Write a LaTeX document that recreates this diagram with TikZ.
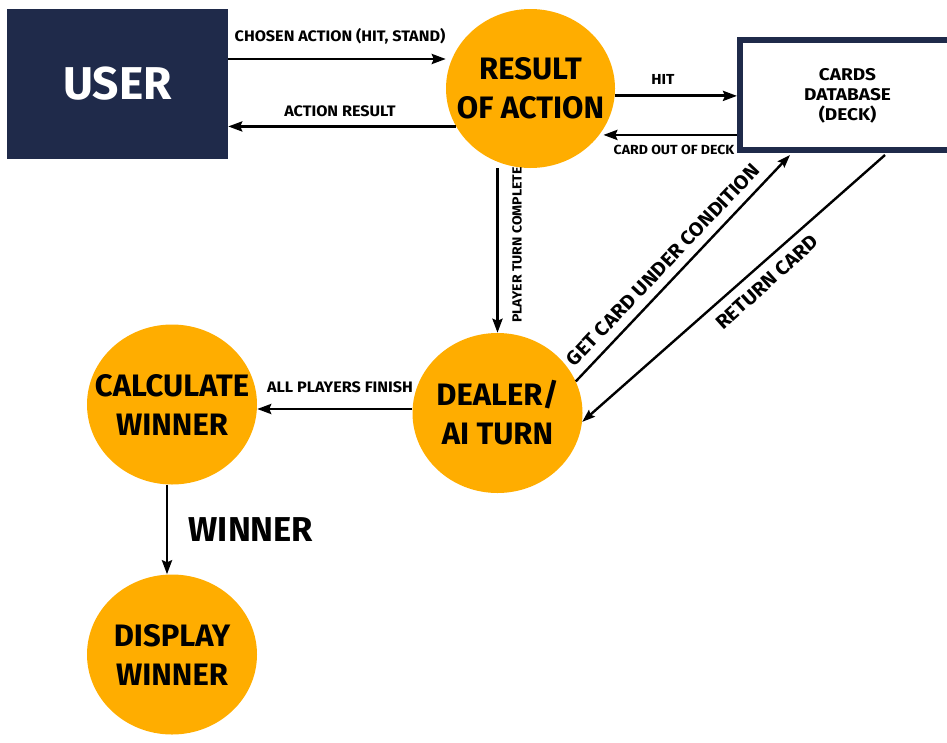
\documentclass[tikz,border=0pt]{standalone}
\usepackage{fontspec}
\setmainfont{Fira Sans}
\newfontfamily\widelbl[FakeStretch=1.065]{Fira Sans}
\newfontfamily\widedb[FakeStretch=1.12]{Fira Sans}
\usetikzlibrary{arrows.meta,shapes.geometric}
\definecolor{navy}{HTML}{1F2A4A}
\definecolor{amber}{HTML}{FFAD00}
\tikzset{
  proc/.style={ellipse, fill=amber, draw=none, minimum width=170pt, minimum height=160pt, inner sep=0pt},
  proctext/.style={inner sep=0pt, align=center, font=\fontsize{31}{39}\selectfont\bfseries},
  userbox/.style={rectangle, fill=navy, draw=none, minimum width=221pt, minimum height=150pt,
    text=white, font=\fontsize{46}{50}\selectfont\bfseries},
  dbbox/.style={rectangle, draw=navy, line width=6pt, fill=white, minimum width=220pt, minimum height=110pt},
  dbtext/.style={inner sep=0pt, align=center, font=\widedb\fontsize{17}{20}\selectfont\bfseries},
  lbl/.style={inner sep=0pt, font=\widelbl\fontsize{15.2}{17}\selectfont\bfseries},
  smlbl/.style={inner sep=0pt, font=\widelbl\fontsize{13.2}{15}\selectfont\bfseries},
  biglbl/.style={inner sep=0pt, font=\widelbl\fontsize{19.5}{22}\selectfont\bfseries},
  arr/.style={line width=2.8pt, -{Stealth[length=14pt,width=10pt,inset=2pt]}},
  darr/.style={line width=2.4pt, -{Stealth[length=13pt,width=9pt,inset=2pt]}},
}
\begin{document}
\begin{tikzpicture}[x=1pt,y=-1pt]
\useasboundingbox (0,0) rectangle (947,742);
\clip (0,0) rectangle (947,742);
% nodes
\node[userbox] (user) at (117.5,84) {USER};
\node[proc, minimum width=169pt, minimum height=159pt] (res) at (530.5,88.5) {};
\node[proctext] (rest) at (res.center) {RESULT\\OF ACTION};
\node[dbbox] (db) at (850,95) {};
\node[dbtext] (dbt) at (847.5,96) {CARDS\\DATABASE\\(DECK)};
\node[proc] (dealer) at (497.5,413) {};
\node[proctext] (dealert) at (dealer.center) {DEALER/\\AI TURN};
\node[proc] (calc) at (172,404.5) {};
\node[proctext] (calct) at (calc.center) {CALCULATE\\WINNER};
\node[proc] (disp) at (172,654.5) {};
\node[proctext] (dispt) at (disp.center) {DISPLAY\\WINNER};
% connectors
\coordinate (c1) at ([yshift=25pt]user.east);
\draw[arr] (c1) -- (c1 -| res.west);
\draw[arr] (res.207.5) -- (res.207.5 -| user.east);
\draw[arr] (res.-5) -- (res.-5 -| db.west);
\draw[arr, shorten >=4pt] (res.-34 -| db.west) -- (res.-34);
\draw[arr] (dealer.north |- res.south) -- (dealer.north);
\coordinate (c2) at ([yshift=4pt]dealer.west);
\draw[arr] (c2) -- (c2 -| calc.east);
\draw[arr] ([xshift=-5pt]calc.south) -- ([xshift=-5pt]disp.north);
\coordinate (g1) at ([xshift=53pt,yshift=-2pt]db.south west);
\coordinate (r1) at ([xshift=148pt,yshift=-2pt]db.south west);
\draw[darr] (dealer.22) -- (g1);
\draw[darr] (r1) -- (dealer.-6);
% labels
\node[lbl] (l1) at (340,36.5) {CHOSEN ACTION (HIT, STAND)};
\node[lbl] (l2) at (340,111) {ACTION RESULT};
\node[inner sep=0pt, font=\widelbl\fontsize{14.5}{16}\selectfont\bfseries] (l3) at (663,79) {HIT};
\node[smlbl] (l4) at (674,150) {CARD OUT OF DECK};
\node[smlbl, rotate=90] (l5) at (517,245) {PLAYER TURN COMPLETE};
\node[lbl] (l6) at (340,387) {ALL PLAYERS FINISH};
\node[inner sep=0pt, font=\fontsize{34.5}{40}\selectfont\bfseries] (l7) at (251,529.5) {WINNER};
\node[biglbl, rotate=46.5] (l8) at (663,265) {GET CARD UNDER CONDITION};
\node[biglbl, rotate=42] (l9) at (767,282) {RETURN CARD};
\end{tikzpicture}
\end{document}
